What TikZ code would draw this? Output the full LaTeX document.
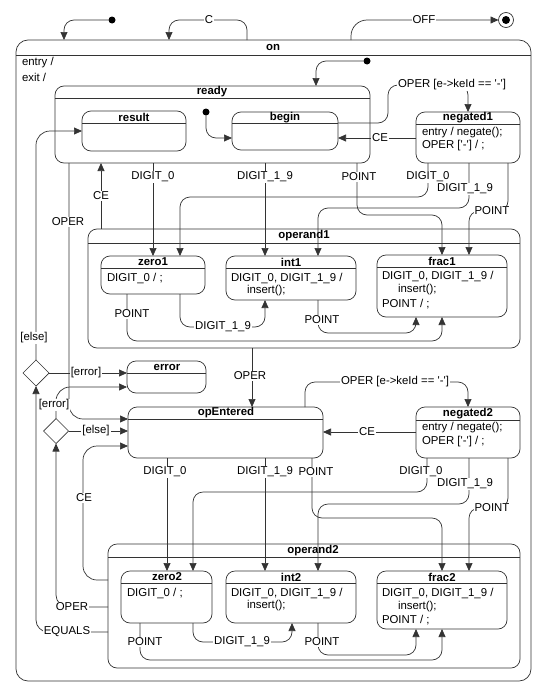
\documentclass[tikz,border=0pt]{standalone}
\usepackage{fontspec}
\newfontfamily\lsans{Liberation Sans}
\usetikzlibrary{arrows.meta,shapes.geometric}
\definecolor{lc}{HTML}{333333}
\begin{document}
\begin{tikzpicture}[x=1pt,y=-1pt,
  every node/.style={font=\lsans\fontsize{11.4}{13}\selectfont, inner sep=1pt, outer sep=0pt},
  sbox/.style={draw=lc, line width=0.7pt, rounded corners=9pt, anchor=north west, inner sep=0pt},
  sepl/.style={draw=lc, line width=0.7pt},
  ttl/.style={font=\lsans\bfseries\fontsize{11.4}{13}\selectfont},
  body/.style={anchor=west},
  lbl/.style={fill=white, inner sep=1pt},
  tr/.style={draw=lc, line width=0.7pt, rounded corners=10pt, -{Triangle[length=8pt,width=7pt]}},
  dot/.style={circle, fill=black, minimum size=7pt, inner sep=0pt},
  choice/.style={diamond, draw=lc, fill=white, line width=0.7pt, minimum width=26pt, minimum height=26pt, inner sep=0pt}
]
\useasboundingbox (0,0) rectangle (545,688);

% ---------- states ----------
\node[sbox, rounded corners=12pt, minimum width=515pt, minimum height=641pt] (on) at (16,40) {};
\draw[sepl] (on.west |- 0,55) -- (on.east |- 0,55);
\node[ttl] (on-t) at (273,47.5) {on};
\node[body] (on-b1) at (21,63) {entry /};
\node[body] (on-b2) at (21,77) {exit /};

\node[sbox, minimum width=315pt, minimum height=77pt] (ready) at (55,86) {};
\draw[sepl] (ready.west |- 0,98) -- (ready.east |- 0,98);
\node[ttl] (ready-t) at (212,92) {ready};

\node[sbox, minimum width=104pt, minimum height=40pt] (result) at (82,111) {};
\draw[sepl] (result.west |- 0,123) -- (result.east |- 0,123);
\node[ttl] (result-t) at (134,117) {result};

\node[sbox, minimum width=106pt, minimum height=38pt] (begin) at (232,112) {};
\draw[sepl] (begin.west |- 0,123) -- (begin.east |- 0,123);
\node[ttl] (begin-t) at (285,117.5) {begin};

\node[sbox, minimum width=104pt, minimum height=51pt] (neg1) at (416,112) {};
\draw[sepl] (neg1.west |- 0,124) -- (neg1.east |- 0,124);
\node[ttl] (neg1-t) at (468,118) {negated1};
\node[body] (neg1-b1) at (421,133) {entry / negate();};
\node[body] (neg1-b2) at (421,146) {OPER ['-'] / ;};

\node[sbox, minimum width=432pt, minimum height=119pt] (op1) at (88,229) {};
\draw[sepl] (op1.west |- 0,243) -- (op1.east |- 0,243);
\node[ttl] (op1-t) at (304,236) {operand1};

\node[sbox, minimum width=104pt, minimum height=38pt] (zero1) at (101,256) {};
\draw[sepl] (zero1.west |- 0,268) -- (zero1.east |- 0,268);
\node[ttl] (zero1-t) at (153,262) {zero1};
\node[body] (zero1-b1) at (106,278) {DIGIT\_0 / ;};

\node[sbox, minimum width=130pt, minimum height=44pt] (int1) at (226,256) {};
\draw[sepl] (int1.west |- 0,268) -- (int1.east |- 0,268);
\node[ttl] (int1-t) at (291,262) {int1};
\node[body] (int1-b1) at (230,278) {DIGIT\_0, DIGIT\_1\_9 /};
\node[body] (int1-b2) at (246,291) {insert();};

\node[sbox, minimum width=130pt, minimum height=62pt] (frac1) at (377,255) {};
\draw[sepl] (frac1.west |- 0,267) -- (frac1.east |- 0,267);
\node[ttl] (frac1-t) at (442,261) {frac1};
\node[body] (frac1-b1) at (381,276) {DIGIT\_0, DIGIT\_1\_9 /};
\node[body] (frac1-b2) at (397,290) {insert();};
\node[body] (frac1-b3) at (381,304) {POINT / ;};

\node[sbox, minimum width=79pt, minimum height=32pt] (error) at (127,361) {};
\draw[sepl] (error.west |- 0,373) -- (error.east |- 0,373);
\node[ttl] (error-t) at (167,367) {error};

\node[sbox, minimum width=195pt, minimum height=51pt] (opE) at (128,407) {};
\draw[sepl] (opE.west |- 0,419) -- (opE.east |- 0,419);
\node[ttl] (opE-t) at (226,413) {opEntered};

\node[sbox, minimum width=104pt, minimum height=51pt] (neg2) at (416,407) {};
\draw[sepl] (neg2.west |- 0,420) -- (neg2.east |- 0,420);
\node[ttl] (neg2-t) at (468,413.5) {negated2};
\node[body] (neg2-b1) at (421,428) {entry / negate();};
\node[body] (neg2-b2) at (421,442) {OPER ['-'] / ;};

\node[sbox, minimum width=412pt, minimum height=124pt] (op2) at (108,544) {};
\draw[sepl] (op2.west |- 0,557) -- (op2.east |- 0,557);
\node[ttl] (op2-t) at (313,550.5) {operand2};

\node[sbox, minimum width=91pt, minimum height=52pt] (zero2) at (121,571) {};
\draw[sepl] (zero2.west |- 0,583) -- (zero2.east |- 0,583);
\node[ttl] (zero2-t) at (167,577) {zero2};
\node[body] (zero2-b1) at (126,593) {DIGIT\_0 / ;};

\node[sbox, minimum width=130pt, minimum height=52pt] (int2) at (226,571) {};
\draw[sepl] (int2.west |- 0,583) -- (int2.east |- 0,583);
\node[ttl] (int2-t) at (291,577) {int2};
\node[body] (int2-b1) at (230,593) {DIGIT\_0, DIGIT\_1\_9 /};
\node[body] (int2-b2) at (246,606) {insert();};

\node[sbox, minimum width=130pt, minimum height=58pt] (frac2) at (377,571) {};
\draw[sepl] (frac2.west |- 0,583) -- (frac2.east |- 0,583);
\node[ttl] (frac2-t) at (442,577) {frac2};
\node[body] (frac2-b1) at (381,593) {DIGIT\_0, DIGIT\_1\_9 /};
\node[body] (frac2-b2) at (397,607) {insert();};
\node[body] (frac2-b3) at (381,620) {POINT / ;};

% pseudo states
\node[dot] (i0) at (112,20) {};
\node[dot] (i1) at (367,61) {};
\node[dot] (i2) at (206,112) {};
\node[circle, draw=lc, line width=0.7pt, minimum size=15pt, inner sep=0pt] (fin) at (506,20) {};
\node[circle, fill=black, minimum size=8pt, inner sep=0pt] (fin-i) at (fin) {};

% ---------- transitions ----------
\draw[tr] (i0) -- (64,20) -- (64,0 |- on.north);
\draw[tr] (247,0 |- on.north) -- (247,20) -- (169,20) -- (169,0 |- on.north);
\draw[tr, rounded corners=16pt] (351,0 |- on.north) -- (351,20) -- (fin.west);
\draw[tr] (i1) -- (316,61) -- (316,0 |- ready.north);
\draw[tr] (i2) -- (206,138) -- (begin.west |- 0,138);
\draw[tr] (begin.east |- 0,123) -- (388,123) -- (388,85) -- (468,85) -- (468,0 |- neg1.north);
\draw[tr] (neg1.west |- 0,138) -- (begin.east |- 0,138);

\draw[tr] (153,0 |- ready.south) -- (153,0 |- zero1.north);
\draw[tr] (265,0 |- ready.south) -- (265,0 |- int1.north);
\draw[tr] (357,0 |- ready.south) -- (357,215) -- (442,215) -- (442,0 |- frac1.north);
\draw[tr] (428,0 |- neg1.south) -- (428,197) -- (180,197) -- (180,0 |- zero1.north);
\draw[tr] (469,0 |- neg1.south) -- (469,208) -- (318,208) -- (318,0 |- int1.north);
\draw[tr] (508,0 |- neg1.south) -- (508,211) -- (469,211) -- (469,0 |- frac1.north);
\draw[tr] (101,0 |- op1.north) -- (101,0 |- ready.south);
\draw[tr, rounded corners=14pt] (69,0 |- ready.south) -- (69,419) -- (opE.west |- 0,419);

\draw[tr] (127,0 |- zero1.south) -- (127,341) -- (442,341) -- (442,0 |- frac1.south);
\draw[tr] (180,0 |- zero1.south) -- (180,327) -- (265,327) -- (265,0 |- int1.south);
\draw[tr] (318,0 |- int1.south) -- (318,333) -- (416,333) -- (416,0 |- frac1.south);
\draw[tr] (252,0 |- op1.south) -- (252,0 |- opE.north);

\node[choice] (d1) at (36,373) {};
\node[choice, minimum width=25pt, minimum height=25pt] (d2) at (56,431) {};
\draw[tr] (d1.east) -- (error.west |- d1.east);
\draw[tr, rounded corners=14pt] (d1.north) -- (36,131) -- (result.west |- 0,131);
\draw[tr, rounded corners=14pt] (d2.north) -- (56,387) -- (error.west |- 0,387);
\draw[tr] (d2.east) -- (opE.west |- d2.east);
\draw[tr, rounded corners=14pt] (op2.west |- 0,580) -- (83,580) -- (83,446) -- (opE.west |- 0,446);
\draw[tr, rounded corners=12pt] (op2.west |- 0,607) -- (56,607) -- (d2.south);
\draw[tr, rounded corners=12pt] (op2.west |- 0,632) -- (36,632) -- (d1.south);

\draw[tr] (167,0 |- opE.south) -- (167,0 |- zero2.north);
\draw[tr] (265,0 |- opE.south) -- (265,0 |- int2.north);
\draw[tr] (312,0 |- opE.south) -- (312,518) -- (442,518) -- (442,0 |- frac2.north);
\draw[tr] (305,0 |- opE.north) -- (305,382) -- (468,382) -- (468,0 |- neg2.north);
\draw[tr] (neg2.west |- 0,432) -- (opE.east |- 0,432);
\draw[tr] (427,0 |- neg2.south) -- (427,492) -- (193,492) -- (193,0 |- zero2.north);
\draw[tr] (469,0 |- neg2.south) -- (469,504) -- (318,504) -- (318,0 |- int2.north);
\draw[tr] (508,0 |- neg2.south) -- (508,508) -- (469,508) -- (469,0 |- frac2.north);

\draw[tr] (140,0 |- zero2.south) -- (140,660) -- (442,660) -- (442,0 |- frac2.south);
\draw[tr] (193,0 |- zero2.south) -- (193,642) -- (292,642) -- (292,0 |- int2.south);
\draw[tr] (318,0 |- int2.south) -- (318,655) -- (416,655) -- (416,0 |- frac2.south);

% ---------- labels ----------
\node[lbl] (l1) at (209,20) {C};
\node[lbl] (l2) at (424,20) {OFF};
\node[lbl] (l3) at (452,85) {OPER [e->keId == '-']};
\node[lbl] (l4) at (380,138) {CE};
\node[lbl] (l5) at (153,177) {DIGIT\_0};
\node[lbl] (l6) at (265,177) {DIGIT\_1\_9};
\node[lbl] (l7) at (359,177) {POINT};
\node[lbl] (l8) at (428,177) {DIGIT\_0};
\node[lbl] (l9) at (465,189) {DIGIT\_1\_9};
\node[lbl] (l10) at (492,211) {POINT};
\node[lbl] (l11) at (101,196) {CE};
\node[lbl] (l12) at (68,222) {OPER};
\node[lbl] (l13) at (132,314) {POINT};
\node[lbl] (l14) at (223,327) {DIGIT\_1\_9};
\node[lbl] (l15) at (322,320) {POINT};
\node[lbl] (l16) at (250,376) {OPER};
\node[lbl] (l17) at (86,373) {[error]};
\node[lbl] (l18) at (34,338) {[else]};
\node[lbl] (l19) at (54,405) {[error]};
\node[lbl] (l20) at (96,431) {[else]};
\node[lbl] (l21) at (84,498) {CE};
\node[lbl] (l22) at (72,607) {OPER};
\node[lbl] (l23) at (67,632) {EQUALS};
\node[lbl] (l24) at (165,472) {DIGIT\_0};
\node[lbl] (l25) at (265,472) {DIGIT\_1\_9};
\node[lbl] (l26) at (316,472) {POINT};
\node[lbl] (l27) at (395,382) {OPER [e->keId == '-']};
\node[lbl] (l28) at (367,432) {CE};
\node[lbl] (l29) at (421,472) {DIGIT\_0};
\node[lbl] (l30) at (465,484) {DIGIT\_1\_9};
\node[lbl] (l31) at (492,508) {POINT};
\node[lbl] (l32) at (145,642) {POINT};
\node[lbl] (l33) at (242,642) {DIGIT\_1\_9};
\node[lbl] (l34) at (322,642) {POINT};
\end{tikzpicture}
\end{document}
